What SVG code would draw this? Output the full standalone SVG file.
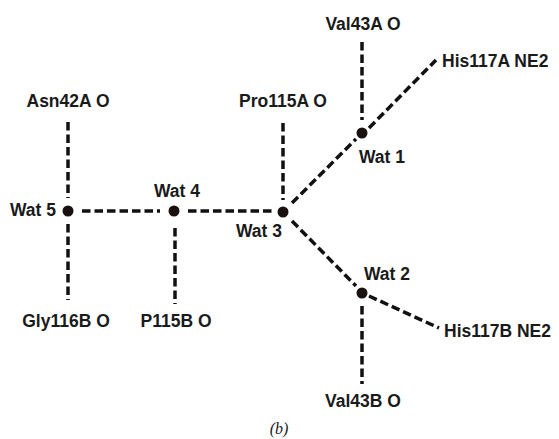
<svg xmlns="http://www.w3.org/2000/svg" width="559" height="439" viewBox="0 0 559 439">
<style>
.c line{stroke:#111;stroke-width:3.5;stroke-dasharray:8.5 4}
.n circle{fill:#1a1010}
text{font-family:"Liberation Sans",Arial,sans-serif;font-weight:bold;font-size:17.5px;fill:#1a1a1a}
.m{text-anchor:middle}
</style>
<rect width="559" height="439" fill="#fff"/>
<g class="c" id="connectors">
<line x1="68" y1="122" x2="68" y2="198"/>
<line x1="68" y1="224" x2="68" y2="300"/>
<line x1="82" y1="211" x2="160" y2="211"/>
<line x1="188" y1="211" x2="272" y2="211"/>
<line x1="175" y1="228" x2="175" y2="304"/>
<line x1="283" y1="123" x2="283" y2="200"/>
<line x1="292" y1="203" x2="356" y2="139"/>
<line x1="362" y1="42" x2="362" y2="120"/>
<line x1="369" y1="128" x2="436" y2="60"/>
<line x1="292" y1="221" x2="356" y2="286"/>
<line x1="369" y1="296" x2="439" y2="328"/>
<line x1="362" y1="306" x2="362" y2="384"/>
</g>
<g class="n" id="wat5"><circle cx="68" cy="211" r="5.5"/><text x="10" y="216">Wat 5</text></g>
<g class="n" id="wat4"><circle cx="174" cy="211" r="5.5"/><text x="177" y="197" class="m">Wat 4</text></g>
<g class="n" id="wat3"><circle cx="283" cy="212" r="5.5"/><text x="259" y="237" class="m">Wat 3</text></g>
<g class="n" id="wat1"><circle cx="362" cy="133" r="5.5"/><text x="359" y="163">Wat 1</text></g>
<g class="n" id="wat2"><circle cx="362" cy="293" r="5.5"/><text x="364" y="280">Wat 2</text></g>
<g id="asn42a"><text x="68" y="107" class="m">Asn42A O</text></g>
<g id="pro115a"><text x="283" y="107" class="m">Pro115A O</text></g>
<g id="val43a"><text x="363" y="30" class="m">Val43A O</text></g>
<g id="his117a"><text x="442" y="67">His117A NE2</text></g>
<g id="gly116b"><text x="66" y="327" class="m">Gly116B O</text></g>
<g id="p115b"><text x="176" y="327" class="m">P115B O</text></g>
<g id="his117b"><text x="444" y="337">His117B NE2</text></g>
<g id="val43b"><text x="363" y="407" class="m">Val43B O</text></g>
<text x="279" y="434" class="m" style="font-family:'Liberation Serif',serif;font-weight:normal;font-style:italic;font-size:16px">(b)</text>
</svg>
